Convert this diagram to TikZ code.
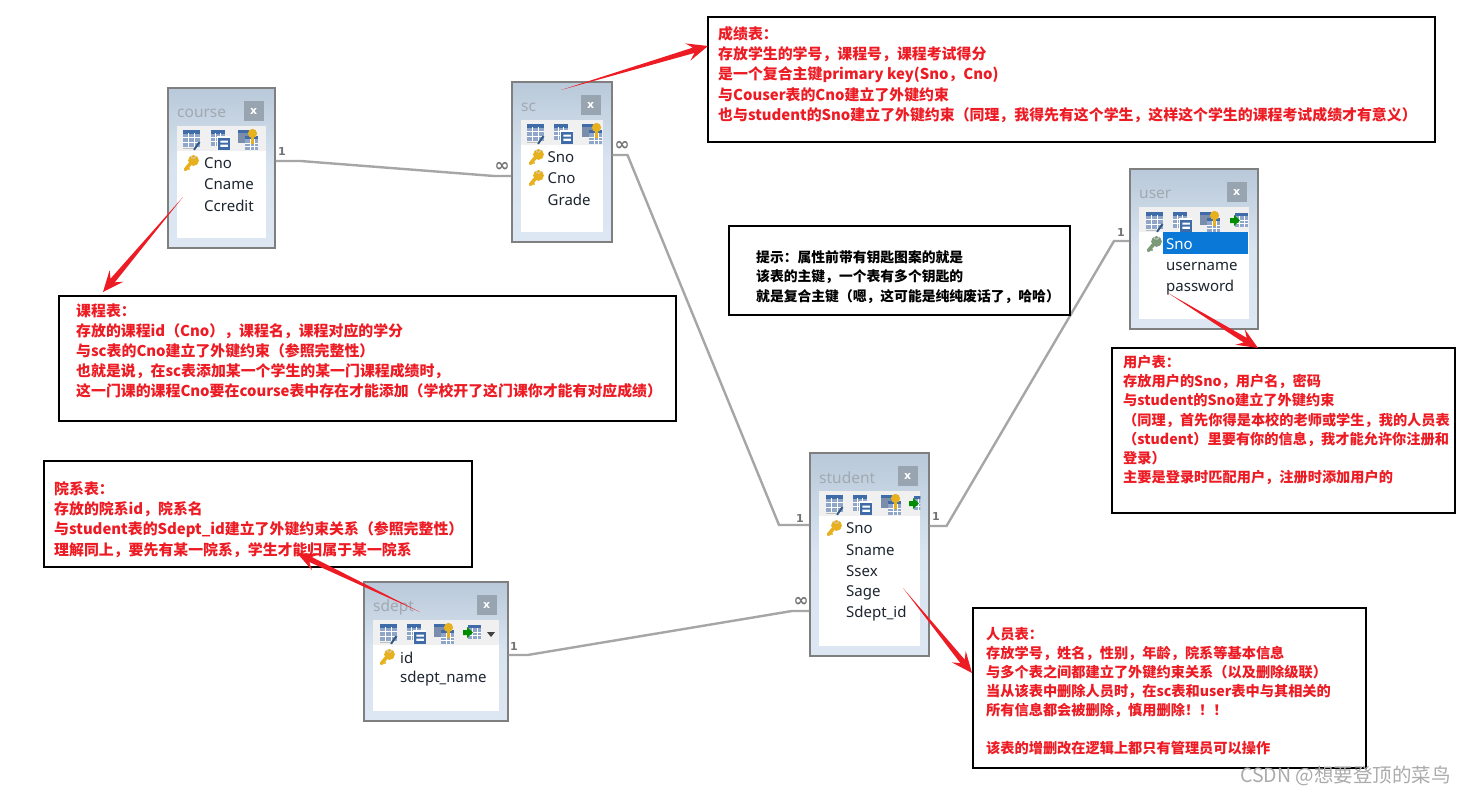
\documentclass[tikz,border=0pt]{standalone}
\usepackage{fontspec}
\setmainfont{Noto Sans}
\newfontfamily\cjk{Noto Sans CJK SC}
\newfontfamily\labfont{DejaVu Sans}
\usetikzlibrary{calc}
\definecolor{redmark}{HTML}{ED1C24}
\definecolor{winedge}{HTML}{7F7F7F}
\definecolor{reledge}{HTML}{A6A6A6}
\definecolor{wintop}{HTML}{B9C9D9}
\definecolor{winbot}{HTML}{DCE7F3}
\definecolor{gridblue}{HTML}{8FA6C9}
\definecolor{gridhead}{HTML}{3F6CA8}
\definecolor{keygold}{HTML}{E6B01E}
\definecolor{keygreen}{HTML}{7C9A78}
\definecolor{selblue}{HTML}{0A78D7}
\definecolor{rowink}{HTML}{1C2530}
\definecolor{closefill}{HTML}{98A4B0}
\tikzset{
  winbox/.style={draw=winedge,line width=1.5pt,anchor=north west,inner sep=0pt,top color=wintop,bottom color=winbot,middle color=winbot!90!wintop},
  panebox/.style={fill=white,draw=none,anchor=north west,inner sep=0pt},
  toolbox/.style={fill=black!6,draw=none,anchor=north west,inner sep=0pt},
  closebox/.style={fill=closefill,draw=none,anchor=north west,inner sep=0pt,minimum width=20pt,minimum height=20pt,text=white,font=\labfont\bfseries\fontsize{11}{11}\selectfont},
  wintitle/.style={anchor=west,inner sep=0pt,text=black!27!winbot,font=\fontsize{15.5}{15.5}\selectfont},
  rowtext/.style={anchor=west,inner sep=0pt,text=rowink,font=\fontsize{15}{15}\selectfont},
  notebox/.style={draw=black,line width=2pt,fill=white,anchor=north west,inner sep=0pt},
  notetext/.style={anchor=north west,inner sep=0pt,align=left,text=redmark},
  reltie/.style={draw=reledge,line width=2.4pt},
  relmark/.style={inner sep=0pt,text=black!55,font=\labfont\bfseries\fontsize{11}{11}\selectfont},
  relinf/.style={inner sep=0pt,text=black!55,font=\labfont\bfseries\fontsize{18}{18}\selectfont},
  pics/gridicon/.style={code={
    \begin{scope}[scale=1.1]
    \fill[gridblue] (0,0) rectangle (15,15);
    \fill[gridhead] (0,0) rectangle (15,3.5);
    \draw[white,line width=.5pt] (0,7)--(15,7) (0,11)--(15,11) (5,3)--(5,15) (10,3)--(10,15);
    \draw[gridhead!80!black,line width=2pt] (10,18)--(15,11);
    \draw[black!25,line width=1pt] (0,17)--(9,17);
    \end{scope}
  }},
  pics/calcicon/.style={code={
    \begin{scope}[scale=1.05]
    \fill[gridblue] (0,0) rectangle (13,15);
    \fill[gridhead] (0,0) rectangle (13,3.5);
    \draw[white,line width=.5pt] (0,7)--(13,7) (0,11)--(13,11) (4.5,3)--(4.5,15) (9,3)--(9,15);
    \fill[white] (6,6) rectangle (18.5,19);
    \fill[gridhead] (7,8) rectangle (18,19);
    \fill[white] (9,10) rectangle (16,12) (9,14) rectangle (16,16);
    \end{scope}
  }},
  pics/keyicon/.style={code={
    \fill[gridblue!85!black] (0,0) rectangle (16,13);
    \fill[gridhead] (0,0) rectangle (16,3);
    \fill[gridblue] (7,6) rectangle (20,20);
    \fill[gridhead] (7,6) rectangle (20,9);
    \draw[white,line width=.4pt] (7,13)--(20,13) (7,16.5)--(20,16.5) (12,9)--(12,20) (16,9)--(16,20);
    \fill[keygold] (14.5,3.5) circle[radius=4.6];
    \fill[keygold] (13,5) rectangle (16,14);
  }},
  pics/linkicon/.style={code={
    \fill[gridblue] (5,1) rectangle (18,15);
    \fill[gridhead] (5,1) rectangle (18,4);
    \draw[white,line width=.4pt] (5,8)--(18,8) (5,11.5)--(18,11.5) (9.5,4)--(9.5,15) (14,4)--(14,15);
    \fill[green!55!black] (0,6) -- (4,6) -- (4,3) -- (10,8.5) -- (4,14) -- (4,11) -- (0,11) -- cycle;
  }},
  pics/pkey/.style={code={
    \draw[#1,line width=3.6pt,line cap=round] (-1,1)--(-5.5,6.5);
    \draw[#1,line width=1.6pt] (-3,5)--(-1.5,6.5);
    \fill[#1] (2.5,-2.5) circle[radius=5.4];
    \draw[black!18,line width=.8pt] (-.3,-7) arc[start angle=170,end angle=20,radius=2.8];
  }},
}
% name, x, y, width, height, title
\newcommand\dbwin[6]{%
  \node[winbox,minimum width=#4pt,minimum height=#5pt] (#1) at (#2,#3) {};
  \node[panebox,minimum width={#4pt-18pt},minimum height={#5pt-48pt}] (#1-pane) at ($(#1.north west)+(10,39)$) {};
  \node[toolbox,minimum width={#4pt-18pt},minimum height=25pt] (#1-tools) at (#1-pane.north west) {};
  \node[closebox] (#1-close) at ($(#1.north east)+(-32,14)$) {x};
  \node[wintitle] (#1-title) at ($(#1.north west)+(10,26)$) {#6};
}
\newcommand\redarrow[2]{%
  \fill[redmark] (#1) -- ($(#2)!15pt!(#1)!2.8pt!90:(#2)$) -- ($(#2)!21pt!(#1)!9pt!90:(#2)$) -- (#2)
    -- ($(#2)!21pt!(#1)!9pt!-90:(#2)$) -- ($(#2)!15pt!(#1)!2.8pt!-90:(#2)$) -- cycle;
}
\begin{document}
\begin{tikzpicture}[x=1pt,y=-1pt]
\useasboundingbox[fill=white] (0,0) rectangle (1467,795);

% ---------- windows
\dbwin{course}{167}{87}{107}{160}{course}
\dbwin{sc}{511}{81}{100}{160}{sc}
\dbwin{user}{1129}{168}{128}{160}{user}
\dbwin{student}{809}{452}{119}{203}{student}
\dbwin{sdept}{363}{581}{144}{139}{sdept}

% toolbar icons
\pic at (183,130) {gridicon}; \pic at (211,130) {calcicon}; \pic at (238,130) {keyicon};
\pic at (527,124) {gridicon}; \pic at (554,124) {calcicon}; \pic at (582,124) {keyicon};
\pic at (1146,212) {gridicon}; \pic at (1173,212) {calcicon}; \pic at (1200,212) {keyicon}; \pic at (1230,212) {linkicon};
\pic at (826,495) {gridicon}; \pic at (853,495) {calcicon}; \pic at (881,495) {keyicon};
\begin{scope}
  \clip (student-pane.north west) rectangle (student-pane.south east);
  \pic at (909,495) {linkicon};
\end{scope}
\pic at (380,624) {gridicon}; \pic at (407,624) {calcicon}; \pic at (434,624) {keyicon}; \pic at (463,624) {linkicon};
\fill[black!75] (487,632) -- (495,632) -- (491,637) -- cycle;

% highlight row in user
\node[fill=selblue,draw=none,anchor=north west,inner sep=0pt,minimum width=85pt,minimum height=22pt] (user-sel) at (1163,232) {};

% keys
\pic at (191,163) {pkey=keygold};
\pic at (536,157) {pkey=keygold};
\pic at (536,178) {pkey=keygold};
\pic at (1154,244) {pkey=keygreen};
\pic at (834,528) {pkey=keygold};
\pic at (387,657) {pkey=keygold};

% rows
\node[rowtext] (c1) at (204,163) {Cno};
\node[rowtext] (c2) at (204,184.5) {Cname};
\node[rowtext] (c3) at (204,206) {Ccredit};
\node[rowtext] (s1) at (547.5,157) {Sno};
\node[rowtext] (s2) at (547.5,178.5) {Cno};
\node[rowtext] (s3) at (547.5,199.5) {Grade};
\node[rowtext,text=white] (u1) at (1166,244.5) {Sno};
\node[rowtext] (u2) at (1166,266) {username};
\node[rowtext] (u3) at (1166,287.5) {password};
\node[rowtext] (t1) at (846,528.5) {Sno};
\node[rowtext] (t2) at (846,550) {Sname};
\node[rowtext] (t3) at (846,571) {Ssex};
\node[rowtext] (t4) at (846,592.5) {Sage};
\node[rowtext] (t5) at (846,613.5) {Sdept\_id};
\node[rowtext] (d1) at (400,657.5) {id};
\node[rowtext] (d2) at (400,678.5) {sdept\_name};

% ---------- relations
\draw[reltie] ($(course.north east)+(0,74)$) -- ++(25,0) -- ($(sc.north west)+(-17,95)$) -- ++(17,0);
\draw[reltie] ($(sc.north east)+(0,74)$) -- ++(15,0) -- ($(student.north west)+(-30,73)$) -- ++(30,0);
\draw[reltie] ($(student.north east)+(0,74)$) -- ++(17,0) -- ($(user.north west)+(-15,73)$) -- ++(15,0);
\draw[reltie] ($(sdept.north east)+(0,74)$) -- ++(19,0) -- ($(student.north west)+(-17,159)$) -- ++(17,0);
\node[relmark] (m1) at (282,151) {1};
\node[relinf] (m2) at (502,167) {∞};
\node[relinf] (m3) at (622,146) {∞};
\node[relmark] (m4) at (800,518) {1};
\node[relmark] (m5) at (936,516) {1};
\node[relmark] (m6) at (1121,232) {1};
\node[relmark] (m7) at (514,646) {1};
\node[relinf] (m8) at (801,602) {∞};

% ---------- note boxes
\node[notebox,minimum width=727pt,minimum height=125pt] (n1) at (707,16) {};
\node[notebox,minimum width=617pt,minimum height=125pt] (n2) at (58,295) {};
\node[notebox,minimum width=428pt,minimum height=106pt] (n3) at (43,460) {};
\node[notebox,minimum width=343pt,minimum height=165pt] (n4) at (1111,347) {};
\node[notebox,minimum width=393pt,minimum height=160pt] (n5) at (972,607) {};
\node[notebox,minimum width=341pt,minimum height=89pt] (n6) at (728,225) {};

\node[notetext,font=\cjk\bfseries\fontsize{14.9}{20.3}\selectfont] (t-n1) at (718,26) {成绩表：\\存放学生的学号，课程号，课程考试得分\\是一个复合主键primary key(Sno，Cno)\\与Couser表的Cno建立了外键约束\\也与student的Sno建立了外键约束（同理，我得先有这个学生，这样这个学生的课程考试成绩才有意义）};
\node[notetext,font=\cjk\bfseries\fontsize{14.9}{20}\selectfont] (t-n2) at (76,304) {课程表：\\存放的课程id（Cno），课程名，课程对应的学分\\与sc表的Cno建立了外键约束（参照完整性）\\也就是说，在sc表添加某一个学生的某一门课程成绩时，\\这一门课的课程Cno要在course表中存在才能添加（学校开了这门课你才能有对应成绩）};
\node[notetext,font=\cjk\bfseries\fontsize{14.9}{20.4}\selectfont] (t-n3) at (54,481) {院系表：\\存放的院系id，院系名\\与student表的Sdept\_id建立了外键约束关系（参照完整性）\\理解同上，要先有某一院系，学生才能归属于某一院系};
\node[notetext,font=\cjk\bfseries\fontsize{14.2}{19.2}\selectfont] (t-n4) at (1123,355) {用户表：\\存放用户的Sno，用户名，密码\\与student的Sno建立了外键约束\\（同理，首先你得是本校的老师或学生，我的人员表\\（student）里要有你的信息，我才能允许你注册和\\登录）\\主要是登录时匹配用户，注册时添加用户的};
\node[notetext,font=\cjk\bfseries\fontsize{14.2}{19}\selectfont] (t-n5) at (986,627) {人员表：\\存放学号，姓名，性别，年龄，院系等基本信息\\与多个表之间都建立了外键约束关系（以及删除级联）\\当从该表中删除人员时，在sc表和user表中与其相关的\\所有信息都会被删除，慎用删除！！！\\[19pt]该表的增删改在逻辑上都只有管理员可以操作};
\node[notetext,text=black,font=\cjk\bfseries\fontsize{13.8}{19.7}\selectfont] (t-n6) at (756,250) {提示：属性前带有钥匙图案的就是\\该表的主键，一个表有多个钥匙的\\就是复合主键（嗯，这可能是纯纯废话了，哈哈）};

% ---------- red pointers
\coordinate (p1a) at (561,90);    \coordinate (p1b) at (708,46);
\coordinate (p2a) at (183,197);   \coordinate (p2b) at (103,292);
\coordinate (p3a) at (1168,293);  \coordinate (p3b) at (1258,348);
\coordinate (p4a) at (420,612);   \coordinate (p4b) at (297,553);
\coordinate (p5a) at (903,588);   \coordinate (p5b) at (972,673);
\redarrow{p1a}{p1b}
\redarrow{p2a}{p2b}
\redarrow{p3a}{p3b}
\redarrow{p4a}{p4b}
\redarrow{p5a}{p5b}

% watermark
\node[anchor=west,inner sep=0pt,text=black!33,font=\cjk\fontsize{19.5}{19.5}\selectfont] (mark) at (1240,776) {CSDN @想要登顶的菜鸟};
\end{tikzpicture}
\end{document}
